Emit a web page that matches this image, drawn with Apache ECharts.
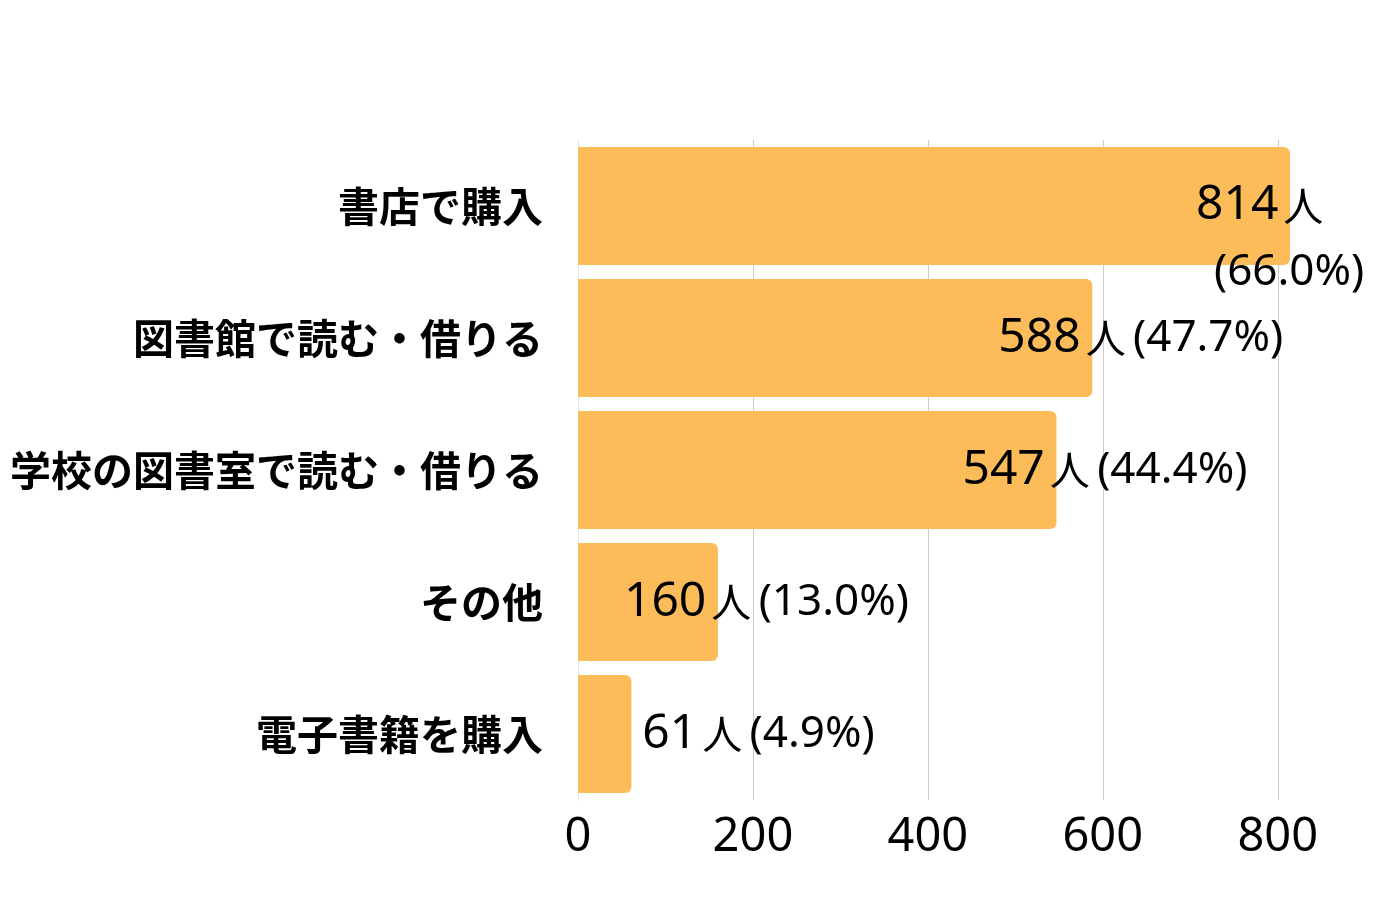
<!DOCTYPE html>
<html><head><meta charset="utf-8">
<script src="https://cdn.jsdelivr.net/npm/echarts@6/dist/echarts.min.js"></script>
<style>html,body{margin:0;padding:0;background:#fff}#c{width:1380px;height:920px}</style>
</head><body><div id="c"></div>
<script>
const categories = ['書店で購入','図書館で読む・借りる','学校の図書室で読む・借りる','その他','電子書籍を購入'];
const counts = [814, 588, 547, 160, 61];
const percents = ['66.0%','47.7%','44.4%','13.0%','4.9%'];
const xTicks = [0, 200, 400, 600, 800];

const chart = echarts.init(document.getElementById('c'));
const numFont = '"Noto Sans", "Open Sans", sans-serif';
const cjkFont = '"Noto Sans CJK JP", sans-serif';

const data = counts.map((v, i) => {
  const wrap = i === 0;
  const txt = wrap
    ? `{n|${v}}{u|人}\n{p2|(${percents[i]})}`
    : `{n|${v}}{u|人} {p|(${percents[i]})}`;
  return {
    value: v,
    label: {
      show: true,
      position: 'right',
      distance: 5,
      offset: [v > 100 ? -99 : 6, wrap ? 33 : 0],
      formatter: () => txt,
      rich: {
        n: {fontSize: 48, fontFamily: numFont, color: '#000', padding: [0, 5, 0, 0], lineHeight: 67},
        u: {fontSize: 40, fontFamily: cjkFont, color: '#000', lineHeight: 67},
        p: {fontSize: 44, fontFamily: numFont, color: '#000', lineHeight: 67, padding: [0, 0, 0, 4]},
        p2: {fontSize: 44, fontFamily: numFont, color: '#000', lineHeight: 67, padding: [0, 0, 0, 18]}
      }
    }
  };
});

chart.setOption({
  animation: false,
  backgroundColor: '#fff',
  grid: {left: 578, right: 90, top: 140, bottom: 120, containLabel: false},
  xAxis: {
    type: 'value', min: 0, max: 814, interval: 200,
    axisLine: {show: false}, axisTick: {show: false},
    splitLine: {show: true, showMaxLine: false, lineStyle: {color: '#cccccc', width: 1}},
    axisLabel: {fontSize: 47, fontFamily: numFont, color: '#000', margin: 14, showMaxLabel: false,
      formatter: v => xTicks.includes(v) ? String(v) : ''}
  },
  yAxis: {
    type: 'category', inverse: true, data: categories,
    axisLine: {show: true, lineStyle: {color: '#e6e6e6'}}, axisTick: {show: false},
    axisLabel: {fontSize: 41, fontWeight: 'bold', fontFamily: cjkFont, color: '#000', margin: 35}
  },
  series: [{
    type: 'bar', data: data, barCategoryGap: '10.6%',
    itemStyle: {color: '#FDBC5A', borderRadius: [0, 6, 6, 0]}
  }]
});
</script></body></html>
